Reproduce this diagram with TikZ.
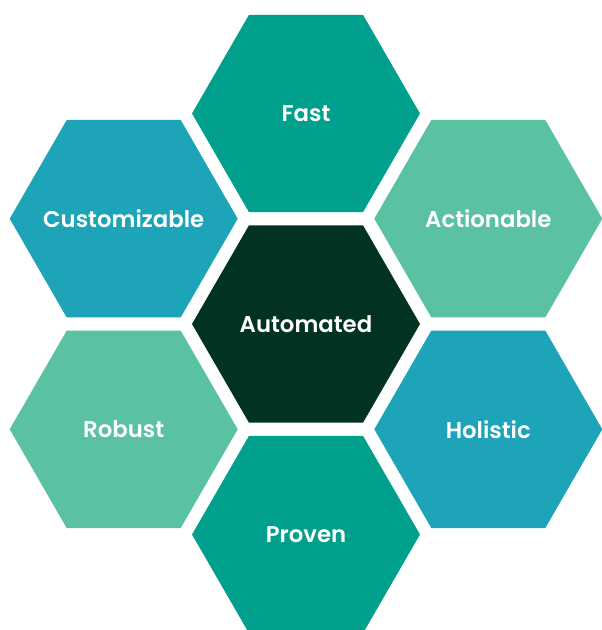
\documentclass[tikz,border=0pt]{standalone}
\usepackage{fontspec}
\setmainfont{Poppins}
\newfontfamily\popsb{Poppins SemiBold}
\usetikzlibrary{shapes.geometric}
\definecolor{cteal}{RGB}{0,160,140}
\definecolor{cblue}{RGB}{29,164,185}
\definecolor{clight}{RGB}{91,193,163}
\definecolor{cdark}{RGB}{2,51,34}
\newcommand{\hexlabel}[1]{\makebox[0pt]{#1}}
\tikzset{
  hexa/.style={regular polygon, regular polygon sides=6, minimum size=228pt,
    inner sep=0pt, draw=none, text=white, font=\popsb\fontsize{22.8}{26}\selectfont}
}
\begin{document}
\begin{tikzpicture}[x=1pt,y=-1pt]
\useasboundingbox (0,0) rectangle (602,630);
\clip (0,0) rectangle (602,630);
\node[hexa, fill=cdark] (auto) at (306,324) {\hexlabel{Automated}};
\node[hexa, fill=cteal] (fast) at (306,113.5) {\hexlabel{Fast}};
\node[hexa, fill=cteal] (proven) at (306,534.5) {\hexlabel{Proven}};
\node[hexa, fill=cblue] (cust) at (123.7,218.7) {\hexlabel{Customizable}};
\node[hexa, fill=clight] (act) at (488.3,218.7) {\hexlabel{Actionable}};
\node[hexa, fill=clight] (rob) at (123.7,429.3) {\hexlabel{Robust}};
\node[hexa, fill=cblue] (hol) at (488.3,429.3) {\hexlabel{Holistic}};
\end{tikzpicture}
\end{document}
